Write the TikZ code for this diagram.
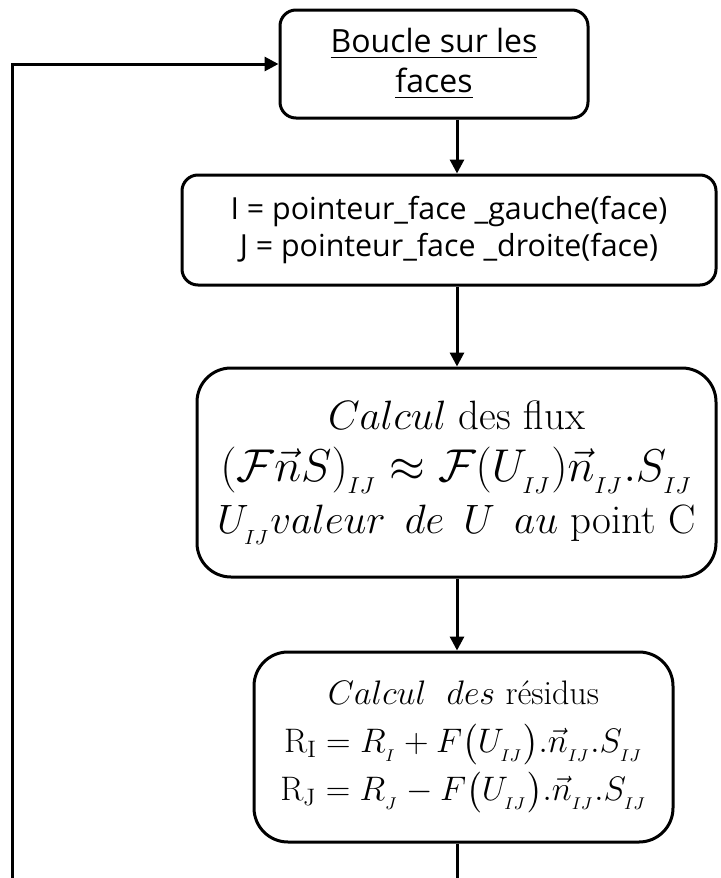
\RequirePackage{fix-cm}
\documentclass[tikz,border=0pt]{standalone}
\usepackage{amsmath}
\usepackage{amssymb}
\usepackage{fontspec}
\newfontfamily\comicfont{Open Sans}
\usetikzlibrary{positioning,arrows.meta}

\begin{document}
\begin{tikzpicture}[x=0.5pt,y=0.5pt,on grid,line width=1.5pt,
  >={Triangle[length=7pt,width=7pt]},
  flowbox/.style={draw,rounded corners=8pt,align=center,inner sep=0pt},
  mathbox/.style={flowbox,rounded corners=17pt}]
\useasboundingbox (0,0) rectangle (720,-878);

\node[flowbox,minimum width=154pt,minimum height=54pt,
  font=\comicfont\fontsize{16}{20}\selectfont] (boucle) at (434,-64)
  {\underline{Boucle sur les}\\\underline{faces}};
\node[flowbox,minimum width=267pt,minimum height=55pt,
  font=\comicfont\fontsize{15.2}{18.5}\selectfont] (pointeurs)
  [below=83pt of boucle,xshift=7.5pt]
  {I = pointeur\_face \_gauche(face)\\J = pointeur\_face \_droite(face)};
\node[mathbox,minimum width=259.5pt,minimum height=104.5pt,
  font=\fontsize{20.5}{26}\selectfont] (flux)
  [below=121.25pt of pointeurs,xshift=3.75pt]
  {$Calcul$ des flux\\
   {\fontsize{23}{26}\selectfont
   $(\mathcal{F}\vec{n}S)_{_{IJ}}\approx\mathcal{F}(U_{_{IJ}})\vec{n}_{_{IJ}}.S_{_{IJ}}$}\\
   $U_{_{IJ}}valeur\ \,de\ \,U\ \,au$ point C};
\node[mathbox,minimum width=209.5pt,minimum height=95pt,
  font=\fontsize{17}{24}\selectfont] (residus)
  [below=137.25pt of flux,xshift=3.5pt]
  {$Calcul\ \ des$ résidus\\
   $\mathrm{R}_{\mathrm{I}}=R_{_I}+F\big(U_{_{IJ}}\big).\vec{n}_{_{IJ}}.S_{_{IJ}}$\\
   $\mathrm{R}_{\mathrm{J}}=R_{_J}-F\big(U_{_{IJ}}\big).\vec{n}_{_{IJ}}.S_{_{IJ}}$};

\coordinate (spine) at (457,0);
\coordinate (fin) at (457,-878);
\coordinate (retour) at (12,-878);

\draw[->] (boucle.south -| spine) -- (pointeurs.north -| spine);
\draw[->] (pointeurs.south -| spine) -- (flux.north -| spine);
\draw[->] (flux.south -| spine) -- (residus.north -| spine);
\draw (residus.south -| spine) -- (fin);
\draw[->] (retour) |- (boucle.west);
\end{tikzpicture}
\end{document}
